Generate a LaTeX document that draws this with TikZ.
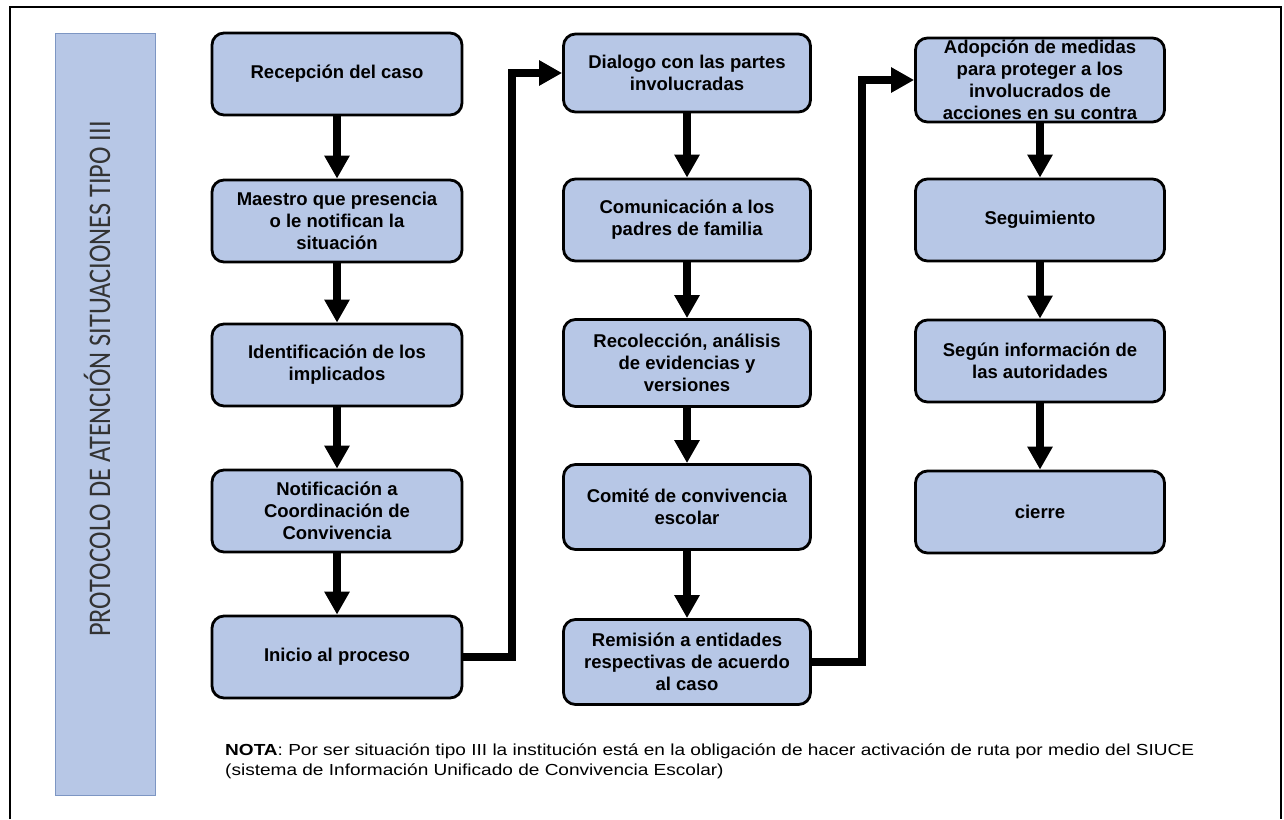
\documentclass[tikz,border=0pt]{standalone}
\usepackage{fontspec}
\setmainfont{Liberation Sans}
\newfontfamily\calibri[FakeStretch=0.835]{Carlito}
\newfontfamily\notafont[FakeStretch=1.19]{Liberation Sans}
\usetikzlibrary{arrows.meta,positioning}
\definecolor{cajaazul}{RGB}{183,199,230}
\definecolor{bordeazul}{RGB}{125,150,195}

\begin{document}
\begin{tikzpicture}[x=1pt,y=-1pt,inner sep=2pt]
  \tikzstyle{c}=[draw,line width=2.8pt,rounded corners=12pt,fill=cajaazul,align=center,minimum height=82pt,font=\bfseries\fontsize{18.5}{22}\selectfont]
  \tikzstyle{e}=[-{Triangle[length=23pt,width=24pt]},line width=8pt,draw=black]
  \useasboundingbox(0,0)rectangle(1284,819);
  \draw[line width=2pt](10,819)--(10,7)--(1281,7)--(1281,819);
  % banda lateral
  \node[draw=bordeazul,fill=cajaazul,minimum width=100pt,minimum height=762pt,inner sep=0pt](banda)at(105,414){};
  \node[rotate=90,anchor=base,font=\calibri\fontsize{31.5}{34}\selectfont,text=black!80](titulo)at(110,379){PROTOCOLO DE ATENCIÓN SITUACIONES TIPO III};
  % primera columna
  \node[c,minimum width=250pt](a1)at(337,74){Recepción del caso};
  \node[c,minimum width=250pt](a2)at(337,221){Maestro que presencia\\o le notifican la\\situación};
  \node[c,minimum width=250pt](a3)at(337,365){Identificación de los\\implicados};
  \node[c,minimum width=250pt](a4)at(337,511){Notificación a\\Coordinación de\\Convivencia};
  \node[c,minimum width=250pt](a5)at(337,657){Inicio al proceso};
  % segunda columna
  \node[c,minimum width=247pt,minimum height=78pt](b1)at(687,73){Dialogo con las partes\\involucradas};
  \node[c,minimum width=247pt](b2)at(687,220){Comunicación a los\\padres de familia};
  \node[c,minimum width=247pt,minimum height=87pt](b3)at(687,363){Recolección, análisis\\de evidencias y\\versiones};
  \node[c,minimum width=247pt,minimum height=85pt](b4)at(687,507){Comité de convivencia\\escolar};
  \node[c,minimum width=247pt,minimum height=85pt](b5)at(687,662){Remisión a entidades\\respectivas de acuerdo\\al caso};
  % tercera columna
  \node[c,minimum width=249pt,minimum height=84pt,inner sep=0pt](c1)at(1040,80){Adopción de medidas\\para proteger a los\\involucrados de\\acciones en su contra};
  \node[c,minimum width=249pt](c2)at(1040,220){Seguimiento};
  \node[c,minimum width=249pt](c3)at(1040,361){Según información de\\las autoridades};
  \node[c,minimum width=249pt](c4)at(1040,512){cierre};
  \foreach\o/\d in{a1/a2,a2/a3,a3/a4,a4/a5,b1/b2,b2/b3,b3/b4,b4/b5,c1/c2,c2/c3,c3/c4}{\draw[e](\o.south)--(\d.north);}
  \coordinate(k1)at(512,73);
  \coordinate(k2)at(862,80);
  \draw[e](a5.east)-|(k1)--(b1.west);
  \draw[e](b5.east)-|(k2)--(c1.west);
  % nota
  \node[anchor=west,align=left,font=\notafont\fontsize{16}{20}\selectfont](nota)at(223,761){\textbf{NOTA}: Por ser situación tipo III la institución está en la obligación de hacer activación de ruta por medio del SIUCE\\(sistema de Información Unificado de Convivencia Escolar)};
\end{tikzpicture}
\end{document}
